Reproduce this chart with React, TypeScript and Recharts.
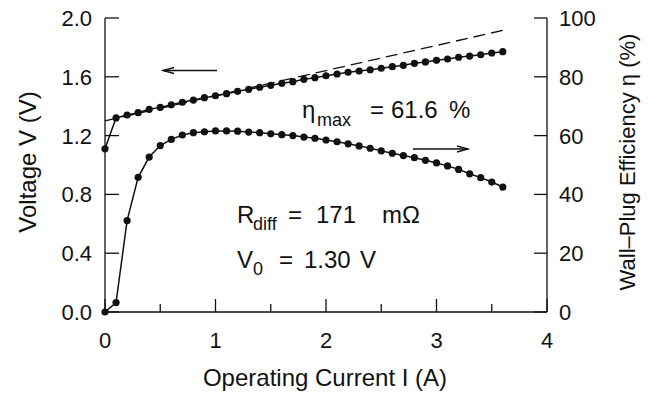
import React from 'react';
import {
  ComposedChart,
  Line,
  XAxis,
  YAxis,
  Customized,
} from 'recharts';

// operating current (A), one point every 0.1 A
const current = [
  0, 0.1, 0.2, 0.3, 0.4, 0.5, 0.6, 0.7, 0.8, 0.9, 1.0, 1.1, 1.2, 1.3, 1.4, 1.5, 1.6, 1.7, 1.8,
  1.9, 2.0, 2.1, 2.2, 2.3, 2.4, 2.5, 2.6, 2.7, 2.8, 2.9, 3.0, 3.1, 3.2, 3.3, 3.4, 3.5, 3.6,
];

// measured voltage (V)
const voltage = [
  1.11, 1.32, 1.34, 1.356, 1.379, 1.392, 1.41, 1.427, 1.442, 1.458, 1.471, 1.485, 1.501, 1.515,
  1.529, 1.542, 1.556, 1.567, 1.583, 1.594, 1.607, 1.619, 1.631, 1.639, 1.648, 1.658, 1.669,
  1.678, 1.692, 1.701, 1.712, 1.721, 1.733, 1.741, 1.75, 1.762, 1.771,
];

// wall-plug efficiency (%)
const efficiency = [
  0, 3.2, 31.1, 45.8, 52.7, 56.6, 58.7, 60.2, 61.0, 61.3, 61.6, 61.6, 61.5, 61.2, 61.0, 60.6,
  60.3, 60.0, 59.5, 59.1, 58.5, 57.9, 57.2, 56.5, 55.7, 54.8, 54.0, 53.2, 52.5, 51.6, 50.7,
  49.7, 48.5, 47.0, 45.7, 44.2, 42.5,
];

// linear fit V = V0 + Rdiff * I, end points
const fitCurrent = [0, 3.6];
const fitVoltage = [1.3, 1.916];

const xTicks = [0, 0.5, 1, 1.5, 2, 2.5, 3, 3.5, 4];
const voltTicks = [0, 0.4, 0.8, 1.2, 1.6, 2.0];
const effTicks = [0, 20, 40, 60, 80, 100];

const FONT = '"Liberation Sans", Arial, sans-serif';
const INK = '#111';

const data = current.map((i, k) => ({ i, v: voltage[k], eta: efficiency[k] }));
const fitData = fitCurrent.map((i, k) => ({ i, fit: fitVoltage[k] }));

const BottomTick = ({ x, y, payload }: any) => {
  const major = Number.isInteger(payload.value);
  return (
    <g>
      <line x1={x} x2={x} y1={y} y2={y - (major ? 13 : 8)} stroke={INK} strokeWidth={1.3} />
      {major && (
        <text x={x} y={y + 36} textAnchor="middle" fontSize={22} fontFamily={FONT} fill={INK}>
          {payload.value}
        </text>
      )}
    </g>
  );
};

const TopTick = ({ x, y, payload }: any) => {
  const major = Number.isInteger(payload.value);
  return <line x1={x} x2={x} y1={y} y2={y + (major ? 13 : 8)} stroke={INK} strokeWidth={1.3} />;
};

const LeftTick = ({ x, y, payload }: any) => (
  <g>
    <line x1={x} x2={x + 14} y1={y} y2={y} stroke={INK} strokeWidth={1.3} />
    <text x={x - 13} y={y + 8} textAnchor="end" fontSize={22} fontFamily={FONT} fill={INK}>
      {payload.value.toFixed(1)}
    </text>
  </g>
);

const RightTick = ({ x, y, payload }: any) => (
  <g>
    <line x1={x} x2={x - 13} y1={y} y2={y} stroke={INK} strokeWidth={1.3} />
    <text x={x + 12} y={y + 8} textAnchor="start" fontSize={22} fontFamily={FONT} fill={INK}>
      {payload.value}
    </text>
  </g>
);

const Annotations = () => (
  <g fontFamily={FONT} fill={INK}>
    <text x={28} y={162} fontSize={24} textAnchor="middle" transform="rotate(-90 28 162)" dy={8}>
      Voltage V (V)
    </text>
    <text x={627} y={162} fontSize={22} textAnchor="middle" transform="rotate(-90 627 162)" dy={8}>
      Wall–Plug Efficiency η (%)
    </text>
    <text x={325} y={386} fontSize={24} textAnchor="middle">
      Operating Current I (A)
    </text>

    <text y={118} fontSize={24}>
      <tspan x={302}>η</tspan>
      <tspan x={317} y={126} fontSize={18}>max</tspan>
      <tspan x={370} y={118}>=</tspan>
      <tspan x={391}>61.6</tspan>
      <tspan x={449}>%</tspan>
    </text>
    <text y={223} fontSize={24}>
      <tspan x={237}>R</tspan>
      <tspan x={253} y={230} fontSize={18}>diff</tspan>
      <tspan x={288} y={223}>=</tspan>
      <tspan x={316}>171</tspan>
      <tspan x={382}>mΩ</tspan>
    </text>
    <text y={268} fontSize={24}>
      <tspan x={237}>V</tspan>
      <tspan x={253} y={275} fontSize={18}>0</tspan>
      <tspan x={279} y={268}>=</tspan>
      <tspan x={304}>1.30</tspan>
      <tspan x={360}>V</tspan>
    </text>

    {/* arrows pointing to the relevant axis */}
    <g stroke={INK} strokeWidth={1.3} fill="none">
      <line x1={217} y1={70.5} x2={163} y2={70.5} />
      <polyline points="174,67.5 163,70.5 174,73.5" />
      <line x1={413} y1={149} x2={468} y2={149} />
      <polyline points="457,146 468,149 457,152" />
    </g>
  </g>
);

export default function App() {
  return (
    <div style={{ position: 'absolute', left: 0, top: 0, background: '#fff' }}>
      <ComposedChart
        width={657}
        height={393}
        data={data}
        margin={{ top: 18, right: 0, bottom: 0, left: 0 }}
      >
        <XAxis
          xAxisId="bottom"
          dataKey="i"
          type="number"
          domain={[0, 4]}
          ticks={xTicks}
          height={81}
          tickSize={0}
          tickMargin={0}
          tickLine={false}
          tick={<BottomTick />}
          axisLine={{ stroke: INK, strokeWidth: 1.3 }}
          interval={0}
        />
        <XAxis
          xAxisId="top"
          orientation="top"
          dataKey="i"
          type="number"
          domain={[0, 4]}
          ticks={xTicks}
          height={0}
          tickSize={0}
          tickMargin={0}
          tickLine={false}
          tick={<TopTick />}
          axisLine={{ stroke: INK, strokeWidth: 1.3 }}
          interval={0}
        />
        <YAxis
          yAxisId="left"
          type="number"
          domain={[0, 2]}
          ticks={voltTicks}
          width={105}
          tickSize={0}
          tickMargin={0}
          tickLine={false}
          tick={<LeftTick />}
          axisLine={{ stroke: INK, strokeWidth: 1.3 }}
          interval={0}
        />
        <YAxis
          yAxisId="right"
          orientation="right"
          type="number"
          domain={[0, 100]}
          ticks={effTicks}
          width={110}
          tickSize={0}
          tickMargin={0}
          tickLine={false}
          tick={<RightTick />}
          axisLine={{ stroke: INK, strokeWidth: 1.3 }}
          interval={0}
        />
        <Line
          xAxisId="bottom"
          yAxisId="left"
          data={fitData}
          dataKey="fit"
          type="linear"
          stroke={INK}
          strokeWidth={1.3}
          strokeDasharray="12 6"
          dot={false}
          isAnimationActive={false}
        />
        <Line
          xAxisId="bottom"
          yAxisId="left"
          dataKey="v"
          type="linear"
          stroke={INK}
          strokeWidth={1.5}
          dot={{ r: 3.6, fill: INK, stroke: INK, strokeWidth: 0 }}
          isAnimationActive={false}
        />
        <Line
          xAxisId="bottom"
          yAxisId="right"
          dataKey="eta"
          type="linear"
          stroke={INK}
          strokeWidth={1.5}
          dot={{ r: 3.6, fill: INK, stroke: INK, strokeWidth: 0 }}
          isAnimationActive={false}
        />
        <Customized component={Annotations} />
      </ComposedChart>
    </div>
  );
}
